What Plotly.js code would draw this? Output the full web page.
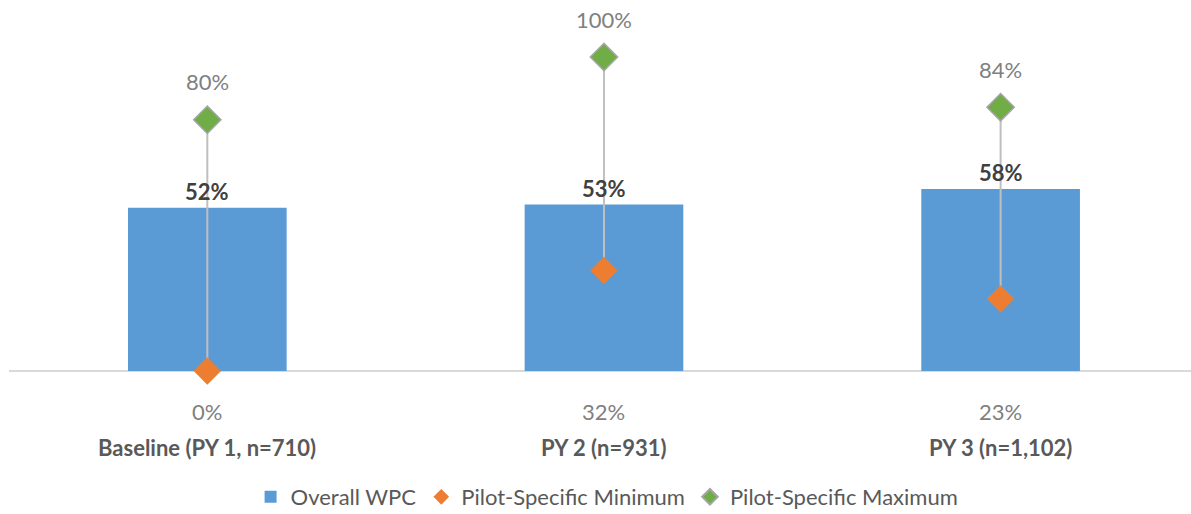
<!DOCTYPE html>
<html>
<head>
<meta charset="utf-8">
<script src="https://cdn.plot.ly/plotly-3.0.1.min.js"></script>
<style>html,body{margin:0;padding:0;background:#fff;}#chart{width:1191px;height:514px;}</style>
</head>
<body>
<div id="chart"></div>
<script>
const categories = ["Baseline (PY 1, n=710)", "PY 2 (n=931)", "PY 3 (n=1,102)"];
const overallWPC = [52, 53, 58];
const pilotMin = [0, 32, 23];
const pilotMax = [80, 100, 84];

const FONT = "Lato, Open Sans, sans-serif";
const FS = 22;

// high-low connector lines built from min/max arrays
const lineX = [], lineY = [];
categories.forEach((c, i) => { lineX.push(c, c, null); lineY.push(pilotMin[i], pilotMax[i], null); });

const traces = [
  { type: "bar", name: "Overall WPC", x: categories, y: overallWPC, width: 0.4,
    marker: { color: "#5b9bd5" }, hoverinfo: "skip" },
  { type: "scatter", mode: "lines", x: lineX, y: lineY, showlegend: false,
    line: { color: "#bfbfbf", width: 2 }, hoverinfo: "skip", cliponaxis: false },
  { type: "scatter", mode: "markers", name: "Pilot-Specific Minimum", x: categories, y: pilotMin,
    marker: { symbol: "diamond", size: 21, color: "#ed7d31", line: { width: 0 } }, cliponaxis: false, hoverinfo: "skip" },
  { type: "scatter", mode: "markers", name: "Pilot-Specific Maximum", x: categories, y: pilotMax,
    marker: { symbol: "diamond", size: 21, color: "#70ad47", line: { width: 1.5, color: "#a5a5a5" } }, cliponaxis: false, hoverinfo: "skip" }
];

const annotations = [];
categories.forEach((c, i) => {
  annotations.push({ x: c, y: pilotMax[i], xref: "x", yref: "y", text: pilotMax[i] + "%", showarrow: false,
    yshift: 38, font: { family: FONT, size: FS, color: "#808080" } });
  annotations.push({ x: c, y: 0, xref: "x", yref: "y", text: pilotMin[i] + "%", showarrow: false,
    yshift: -40, font: { family: FONT, size: FS, color: "#808080" } });
  annotations.push({ x: c, y: 0, xref: "x", yref: "y", text: "<b>" + c + "</b>", showarrow: false,
    yshift: -76, font: { family: FONT, size: FS, color: "#595959" } });
  annotations.push({ x: c, y: overallWPC[i], xref: "x", yref: "y", text: "<b>" + overallWPC[i] + "%</b>", showarrow: false,
    yshift: 16, font: { family: FONT, size: FS, color: "#404040" } });
});

const layout = {
  width: 1191, height: 514,
  margin: { l: 9, r: 0, t: 57, b: 143 },
  paper_bgcolor: "#fff", plot_bgcolor: "#fff",
  font: { family: FONT, color: "#595959" },
  showlegend: true,
  legend: { orientation: "h", x: 0.506, xanchor: "center", yref: "container", y: 0.033, yanchor: "middle",
    itemsizing: "constant",
    font: { family: FONT, size: FS, color: "#595959" }, traceorder: "normal" },
  xaxis: { type: "category", range: [-0.5, 2.48], showticklabels: false, ticks: "", showgrid: false,
    zeroline: false, showline: false, fixedrange: true },
  yaxis: { range: [0, 100], showticklabels: false, ticks: "", showgrid: false, zeroline: true,
    zerolinecolor: "#d9d9d9", zerolinewidth: 1.5, showline: false, fixedrange: true },
  annotations: annotations
};

Plotly.newPlot("chart", traces, layout, { displayModeBar: false, staticPlot: true });
</script>
</body>
</html>
